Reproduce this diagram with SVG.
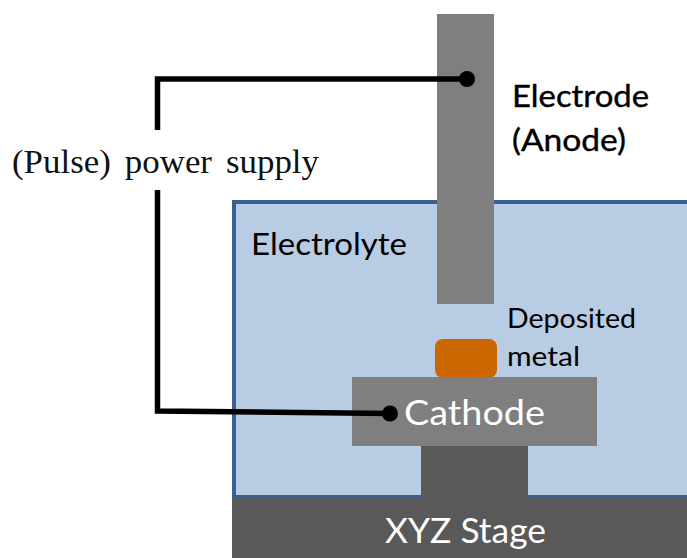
<svg xmlns="http://www.w3.org/2000/svg" width="687" height="558" viewBox="0 0 687 558">
<style>
.s{font-family:Lato,"Open Sans","DejaVu Sans",sans-serif}
.w{stroke:#000;stroke-width:5.500;fill:none;stroke-linejoin:miter}
.g{fill:#7f7f7f}
.d{fill:#595959}
</style>
<rect width="687" height="558" fill="#fff"/>
<g id="electrolyte"><rect x="234" y="202" width="460" height="295" fill="#b8cce4" stroke="#3b5f8f" stroke-width="4"/><text class="s" x="251" y="255" font-size="30" textLength="156" lengthAdjust="spacingAndGlyphs" fill="#000">Electrolyte</text></g>
<g id="electrode"><rect class="g" x="437" y="14" width="57" height="290"/><text class="s" x="512" y="107" font-size="31" textLength="137" lengthAdjust="spacingAndGlyphs" fill="#000" stroke="#000" stroke-width="0.400">Electrode</text><text class="s" x="512" y="151" font-size="31" textLength="114" lengthAdjust="spacingAndGlyphs" fill="#000" stroke="#000" stroke-width="0.400">(Anode)</text></g>
<g id="deposited-metal"><rect x="435" y="339" width="62" height="39" rx="8" fill="#cc6600"/><text class="s" x="507" y="328" font-size="27" textLength="129" lengthAdjust="spacingAndGlyphs" fill="#000">Deposited</text><text class="s" x="507" y="366" font-size="27" textLength="73" lengthAdjust="spacingAndGlyphs" fill="#000">metal</text></g>
<g id="support"><rect class="d" x="421" y="445" width="107" height="52"/></g>
<g id="cathode"><rect class="g" x="352" y="377" width="245" height="69"/><text class="s" x="404" y="425" font-size="35" textLength="141" lengthAdjust="spacingAndGlyphs" fill="#fff">Cathode</text></g>
<g id="stage"><rect class="d" x="232" y="498" width="455" height="60"/><text class="s" x="385" y="543" font-size="35" textLength="161" lengthAdjust="spacingAndGlyphs" fill="#fff">XYZ Stage</text></g>
<g id="connectors">
<path class="w" d="M157.500 130V79H467"/>
<path class="w" d="M157.500 190V411L390 413.500"/>
<circle cx="467" cy="79" r="8"/>
<circle cx="390" cy="413.500" r="8"/>
</g>
<g id="power-supply"><text x="12" y="173" font-family="'Liberation Serif',serif" font-size="33" fill="#111" word-spacing="5" textLength="307" lengthAdjust="spacingAndGlyphs">(Pulse) power supply</text></g>
</svg>
